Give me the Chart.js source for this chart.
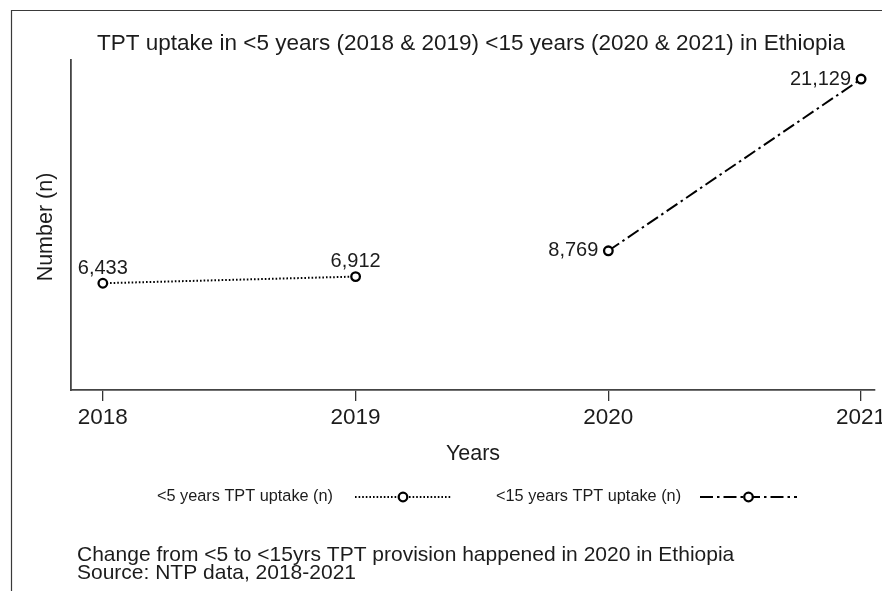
<!DOCTYPE html>
<html>
<head>
<meta charset="utf-8">
<title>TPT uptake in Ethiopia</title>
<script src="https://cdn.jsdelivr.net/npm/chart.js@4/dist/chart.umd.min.js"></script>
<style>
  html, body { margin: 0; padding: 0; background: #ffffff; overflow: hidden; }
  canvas { display: block; }
</style>
</head>
<body>
<canvas id="chart" width="882" height="591"></canvas>
<script>
// Year ticks on the horizontal axis
const yearTicks = [2018, 2019, 2020, 2021];

// <5 years TPT uptake (2018-2019)
const under5Years = [2018, 2019];
const under5Values = [6433, 6912];

// <15 years TPT uptake (2020-2021)
const under15Years = [2020, 2021];
const under15Values = [8769, 21129];

// Where each series' value labels sit relative to the marker
const under5LabelPos = ['top', 'top'];
const under15LabelPos = ['left', 'left'];

const titleText = 'TPT uptake in <5 years (2018 & 2019) <15 years (2020 & 2021) in Ethiopia';
const xTitleText = 'Years';
const yTitleText = 'Number (n)';
const under5Name = '<5 years TPT uptake (n)';
const under15Name = '<15 years TPT uptake (n)';
const noteLines = [
  'Change from <5 to <15yrs TPT provision happened in 2020 in Ethiopia',
  'Source: NTP data, 2018-2021'
];

const FONT = '"Liberation Sans", Arial, Helvetica, sans-serif';
const INK = '#1c1c1c';
const DOT_DASH = [1.6, 2];
const DASH_DOT = [13, 4, 2.5, 4];
const MARK_R = 4.3;

const toPoints = (xs, ys) => xs.map((x, i) => ({ x: x, y: ys[i] }));
const fmt = v => v.toLocaleString('en-US');

// Value labels, titles, legend and notes drawn around the plot region
const decorations = {
  id: 'decorations',
  afterDatasetsDraw(chart) {
    const ctx = chart.ctx;
    ctx.save();
    ctx.fillStyle = INK;
    ctx.font = '20px ' + FONT;
    ctx.textBaseline = 'middle';
    const labelSets = [under5LabelPos, under15LabelPos];
    chart.data.datasets.forEach((ds, di) => {
      const meta = chart.getDatasetMeta(di);
      meta.data.forEach((pt, i) => {
        const txt = fmt(ds.data[i].y);
        if (labelSets[di][i] === 'top') {
          ctx.textAlign = 'center';
          ctx.fillText(txt, pt.x, pt.y - 15);
        } else {
          ctx.textAlign = 'right';
          ctx.fillText(txt, pt.x - 10, pt.y);
        }
      });
    });
    ctx.restore();
  },
  afterDraw(chart) {
    const ctx = chart.ctx;
    const area = chart.chartArea;
    ctx.save();

    // outer frame (top and left edges)
    ctx.strokeStyle = '#3a3a3a';
    ctx.lineWidth = 1.2;
    ctx.beginPath();
    ctx.moveTo(882, 10.5);
    ctx.lineTo(11.5, 10.5);
    ctx.lineTo(11.5, 591);
    ctx.stroke();

    ctx.fillStyle = INK;
    ctx.textBaseline = 'middle';

    // main title
    ctx.font = '22.5px ' + FONT;
    ctx.textAlign = 'center';
    ctx.fillText(titleText, 471, 44);

    // axis titles
    ctx.font = '21.5px ' + FONT;
    ctx.fillText(xTitleText, (area.left + area.right) / 2, 454);
    ctx.save();
    ctx.translate(46, (area.top + area.bottom) / 2 + 2);
    ctx.rotate(-Math.PI / 2);
    ctx.font = '21.5px ' + FONT;
    ctx.fillText(yTitleText, 0, 0);
    ctx.restore();

    // legend
    const legY = 497;
    ctx.font = '16.3px ' + FONT;
    ctx.textAlign = 'left';
    ctx.fillText(under5Name, 157, legY);
    ctx.fillText(under15Name, 496, legY);

    const legendKey = (x0, x1, dash) => {
      ctx.save();
      ctx.strokeStyle = '#000';
      ctx.lineWidth = 1.8;
      ctx.setLineDash(dash);
      ctx.beginPath();
      ctx.moveTo(x0, legY);
      ctx.lineTo(x1, legY);
      ctx.stroke();
      ctx.setLineDash([]);
      const cx = (x0 + x1) / 2;
      ctx.fillStyle = '#fff';
      ctx.lineWidth = 2.3;
      ctx.beginPath();
      ctx.arc(cx, legY, MARK_R, 0, Math.PI * 2);
      ctx.fill();
      ctx.stroke();
      ctx.restore();
    };
    legendKey(355, 451, DOT_DASH);
    legendKey(700, 797, DASH_DOT);

    // notes
    ctx.font = '21px ' + FONT;
    ctx.textAlign = 'left';
    ctx.fillText(noteLines[0], 77, 555);
    ctx.fillText(noteLines[1], 77, 573);

    ctx.restore();
  }
};

const seriesStyle = dash => ({
  showLine: true,
  borderColor: '#000',
  borderWidth: 2,
  borderDash: dash,
  pointStyle: 'circle',
  pointRadius: MARK_R,
  pointBorderWidth: 2.3,
  pointBorderColor: '#000',
  pointBackgroundColor: '#fff'
});

new Chart(document.getElementById('chart'), {
  type: 'scatter',
  data: {
    datasets: [
      Object.assign({ label: under5Name, data: toPoints(under5Years, under5Values) }, seriesStyle(DOT_DASH)),
      Object.assign({ label: under15Name, data: toPoints(under15Years, under15Values) }, seriesStyle(DASH_DOT))
    ]
  },
  options: {
    responsive: false,
    animation: false,
    devicePixelRatio: 1,
    layout: { padding: { top: 60, left: 0, right: 7, bottom: 0 } },
    plugins: {
      legend: { display: false },
      title: { display: false },
      tooltip: { enabled: false }
    },
    scales: {
      x: {
        type: 'linear',
        min: 2017.874,
        max: 2021.055,
        afterFit: s => { s.height = 201; s.paddingLeft = 0; s.paddingRight = 0; },
        afterBuildTicks: s => { s.ticks = yearTicks.map(v => ({ value: v })); },
        border: { display: true, color: '#444', width: 1.8 },
        grid: {
          display: true,
          drawOnChartArea: false,
          drawTicks: true,
          tickLength: 11,
          color: '#333',
          lineWidth: 1.3
        },
        ticks: {
          color: INK,
          font: { family: FONT, size: 22.5 },
          padding: 3,
          maxRotation: 0,
          autoSkip: false,
          callback: v => String(v)
        }
      },
      y: {
        type: 'linear',
        min: -1250,
        max: 22500,
        afterFit: s => { s.width = 71; s.paddingTop = 0; s.paddingBottom = 0; },
        border: { display: true, color: '#444', width: 1.8 },
        grid: { display: false, drawTicks: false },
        ticks: { display: false }
      }
    }
  },
  plugins: [decorations]
});
</script>
</body>
</html>
